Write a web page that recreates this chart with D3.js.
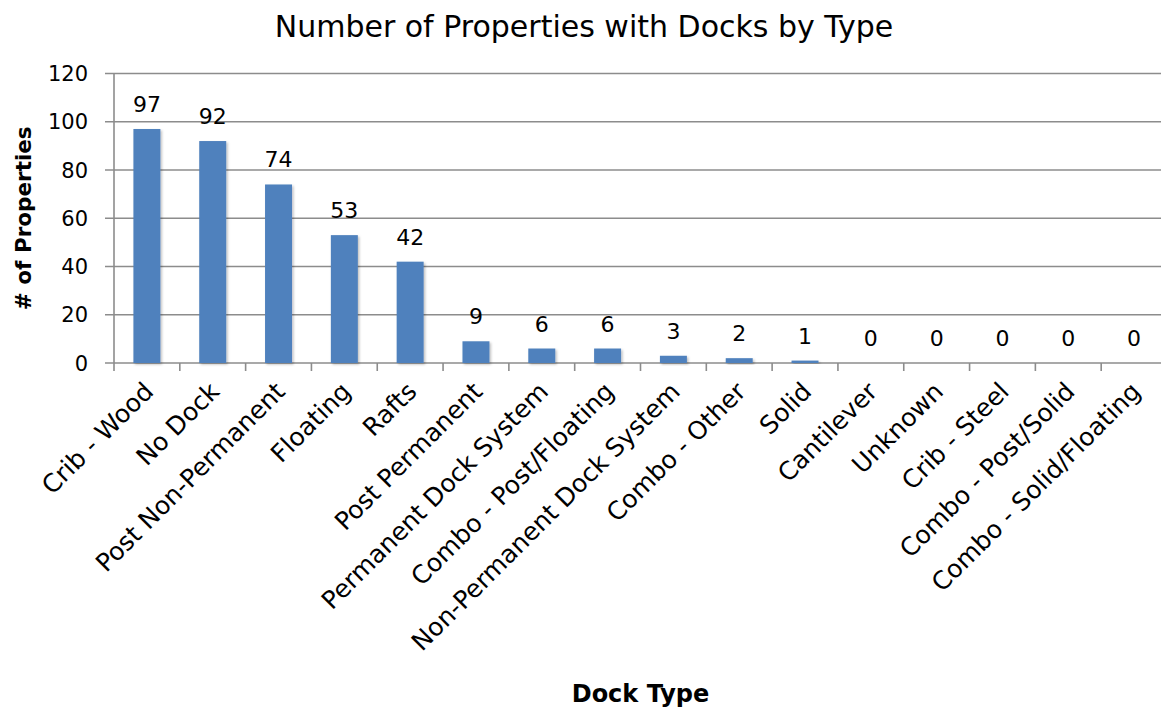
<!DOCTYPE html>
<html>
<head>
<meta charset="utf-8">
<script src="https://cdn.jsdelivr.net/npm/d3@7"></script>
<style>
  body { margin: 0; background: #fff; }
  text { font-family: "DejaVu Sans", sans-serif; fill: #000; }
</style>
</head>
<body>
<svg id="chart" width="1161" height="712"></svg>
<script>
var categories = ["Crib - Wood", "No Dock", "Post Non-Permanent", "Floating", "Rafts",
  "Post Permanent", "Permanent Dock System", "Combo - Post/Floating",
  "Non-Permanent Dock System", "Combo - Other", "Solid", "Cantilever", "Unknown",
  "Crib - Steel", "Combo - Post/Solid", "Combo - Solid/Floating"];
var counts = [97, 92, 74, 53, 42, 9, 6, 6, 3, 2, 1, 0, 0, 0, 0, 0];
var yTicks = [0, 20, 40, 60, 80, 100, 120];

var margin = {top: 73.5, left: 114},
    width = 1053,
    height = 289.5;

var svg = d3.select("#chart");
var g = svg.append("g")
    .attr("transform", "translate(" + margin.left + "," + margin.top + ")");

var x = d3.scaleBand()
    .domain(categories)
    .range([0, width])
    .paddingInner(0.59)
    .paddingOuter(0.295);

var y = d3.scaleLinear()
    .domain([0, 120])
    .range([height, 0]);

var defs = svg.append("defs");
var f = defs.append("filter").attr("id", "shadow")
    .attr("x", "-20%").attr("y", "-20%").attr("width", "150%").attr("height", "150%");
f.append("feDropShadow").attr("dx", 1.5).attr("dy", 1.5).attr("stdDeviation", 1.2)
    .attr("flood-color", "#000").attr("flood-opacity", 0.25);

// gridlines
g.selectAll(".grid")
    .data(yTicks)
    .enter()
  .append("line")
    .attr("class", "grid")
    .attr("x1", -9)
    .attr("x2", width)
    .attr("y1", function(d) { return y(d); })
    .attr("y2", function(d) { return y(d); })
    .attr("stroke", "#8c8c8c")
    .attr("stroke-width", 1.6);

// y axis line
g.append("line")
    .attr("x1", 0).attr("x2", 0)
    .attr("y1", 0).attr("y2", height)
    .attr("stroke", "#8c8c8c")
    .attr("stroke-width", 1.6);

g.selectAll(".ylab")
    .data(yTicks)
    .enter()
  .append("text")
    .attr("class", "ylab")
    .attr("x", -26)
    .attr("y", function(d) { return y(d); })
    .attr("dy", "0.36em")
    .style("text-anchor", "end")
    .style("font-size", "21px")
    .text(function(d) { return d; });

// category tick marks
g.selectAll(".xtick")
    .data(d3.range(categories.length + 1))
    .enter()
  .append("line")
    .attr("class", "xtick")
    .attr("x1", function(i) { return i * x.step(); })
    .attr("x2", function(i) { return i * x.step(); })
    .attr("y1", height)
    .attr("y2", height + 8)
    .attr("stroke", "#8c8c8c")
    .attr("stroke-width", 1.6);

g.selectAll(".bar")
    .data(counts)
    .enter()
  .append("rect")
    .attr("class", "bar")
    .attr("x", function(d, i) { return x(categories[i]); })
    .attr("width", x.bandwidth())
    .attr("y", function(d) { return y(d); })
    .attr("height", function(d) { return height - y(d); })
    .attr("fill", "#4f81bd")
    .attr("filter", "url(#shadow)");

g.selectAll(".val")
    .data(counts)
    .enter()
  .append("text")
    .attr("class", "val")
    .attr("x", function(d, i) { return x(categories[i]) + x.bandwidth() / 2; })
    .attr("y", function(d) { return y(d) - 17; })
    .style("text-anchor", "middle")
    .style("font-size", "22px")
    .text(function(d) { return d; });

g.selectAll(".xlab")
    .data(categories)
    .enter()
  .append("text")
    .attr("class", "xlab")
    .attr("transform", function(d) {
      return "translate(" + (x(d) + x.bandwidth() / 2 + 8) + "," + (height + 30) + ") rotate(-45)";
    })
    .style("text-anchor", "end")
    .style("font-size", "25px")
    .text(function(d) { return d; });

svg.append("text")
    .attr("x", 584)
    .attr("y", 37)
    .style("text-anchor", "middle")
    .style("font-size", "30px")
    .text("Number of Properties with Docks by Type");

svg.append("text")
    .attr("transform", "translate(31," + (margin.top + height / 2) + ") rotate(-90)")
    .style("text-anchor", "middle")
    .style("font-size", "21.5px")
    .style("font-weight", "bold")
    .text("# of Properties");

svg.append("text")
    .attr("x", margin.left + width / 2)
    .attr("y", 702)
    .style("text-anchor", "middle")
    .style("font-size", "24px")
    .style("font-weight", "bold")
    .text("Dock Type");
</script>
</body>
</html>
